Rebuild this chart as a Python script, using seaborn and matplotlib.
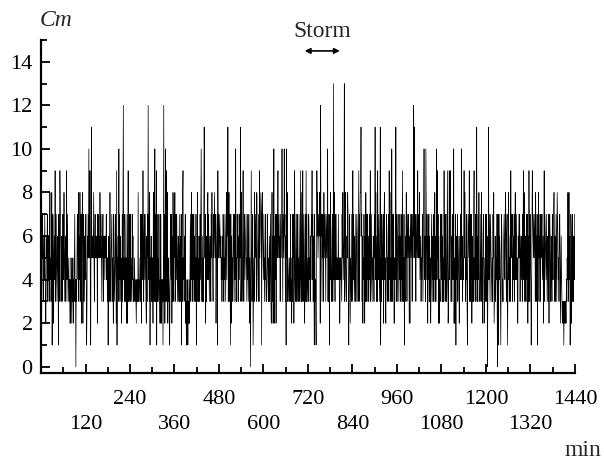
import numpy as np
import pandas as pd
import seaborn as sns
import matplotlib.pyplot as plt

# Cm value per minute in 2-hour chunks (hex digits: a-d = 10-13)
h00 = "5465743564 7532465735 4635845348 1576256493 4753564173 4976356347 5485356359 4753453424 2542435243 5734043576 4836485372 5782573564"
h02 = "574136575a 569317b565 6585367565 5627575658 6575365736 5645657453 5146358435 6735427634 5742915463 a473645237 38c4537635 4272493537"
h04 = "4735437463 4354343243 4383434537 5275495367 475326375c 4738154635 3528536a37 3917354374 2427324341 4c3724a394 3825343147 6472638537"
h06 = "5836747535 6437356371 5389453647 2413241324 2357368473 6473645371 5483536537 47a5363537 b957253647 8475356437 5865375686 5725671957"
h08 = "6576564536 4763547536 8486b35837 4172645367 53745a3537 57365475b3 4834695367 4567535473 5725404953 4713538576 5386543739 5678717865"
h10 = "4753547334 5743536357 32483624a2 5647267569 5675637657 a63765a673 61a5835434 5347342537 5725943573 4734537534 9438359347 4257393734"
h12 = "5376453647 6947364173 4213968567 6872c67537 5738567537 657a373517 485346735d 4853747454 5474522545 43758456d3 4853365873 1475254373"
h14 = "5947536437 3576536937 688b673625 4752638537 4736357493 4753546537 5b48536395 47536b1537 5467268453 2576354739 486353a537 4722546b37"
h16 = "5367536473 6473693537 1536586376 5762627657 63765c6b57 6376569576 5845635467 357a5463a7 4752647363 5247536473 6483635a49 5726243375"
h18 = "4736353947 3675349523 5948953637 745a252471 6457365425 6475a46354 6958635473 1576593537 4726353794 53745b3637 4853357384 5267523537"
h20 = "4736035b47 5376543537 5823463547 4072174653 1576343567 5478536713 5845363957 6735647368 4764522657 5735654637 5948536537 6472639537"
h22 = "5413697657 5673856371 6583657367 5745625937 6547535637 2576346537 5468836537 5387645367 5246432323 1323232435 4835846137 6257353647"

x_major = list(range(120, 1441, 120))
x_minor = list(range(60, 1441, 120))
y_major = list(range(0, 15, 2))
y_minor = list(range(1, 16, 2))
storm = (711, 806)

blocks = [h00, h02, h04, h06, h08, h10, h12, h14, h16, h18, h20, h22]
cm = [int(c, 16) for b in blocks for c in b.replace(" ", "")]
df = pd.DataFrame({"minute": np.arange(len(cm)), "cm": cm})

sns.set_style("ticks")
plt.rcParams["font.family"] = ["Liberation Serif", "DejaVu Serif"]

fig = plt.figure(figsize=(6.04, 4.59), dpi=100)
ax = fig.add_axes([0.0679, 0.188, 0.884, 0.725])
sns.lineplot(data=df, x="minute", y="cm", color="black", lw=0.5,
             estimator=None, ax=ax)
sns.despine(ax=ax)

ax.set_xlim(0, 1440)
ax.set_ylim(-0.27, 15)
ax.set_xlabel("")
ax.set_ylabel("")

# x labels alternate between two rows
ax.set_xticks(x_major)
ax.set_xticklabels([str(t) if (t // 120) % 2 == 0 else "\n" + str(t) for t in x_major])
ax.set_xticks(x_minor, minor=True)
for lbl in ax.get_xticklabels():
    lbl.set_linespacing(1.4)
ax.set_yticks(y_major)
ax.set_yticks(y_minor, minor=True)

ax.tick_params(which="both", direction="in", width=1.3, colors="black", labelsize=16)
ax.tick_params(which="major", length=6.5)
ax.tick_params(which="minor", length=4)
ax.tick_params(axis="x", pad=12.5)
ax.tick_params(axis="y", pad=6)
for s in ["left", "bottom"]:
    ax.spines[s].set_color("black")
    ax.spines[s].set_linewidth(1.6)

ax.annotate("", xy=(storm[1], 0.967), xytext=(storm[0], 0.967),
            xycoords=("data", "axes fraction"),
            arrowprops=dict(arrowstyle="<|-|>", color="black", lw=1.2,
                            mutation_scale=8, shrinkA=0, shrinkB=0))
ax.text(sum(storm) / 2, 1.025, "Storm", transform=ax.get_xaxis_transform(),
        ha="center", va="center", fontsize=17, clip_on=False)

fig.text(40 / 604, 1 - 20 / 459, "Cm", style="italic", fontsize=17, ha="left", va="center")
fig.text(0.995, 1 - 450 / 459, "min", fontsize=17, ha="right", va="center")

plt.savefig("out.png", dpi=100)
